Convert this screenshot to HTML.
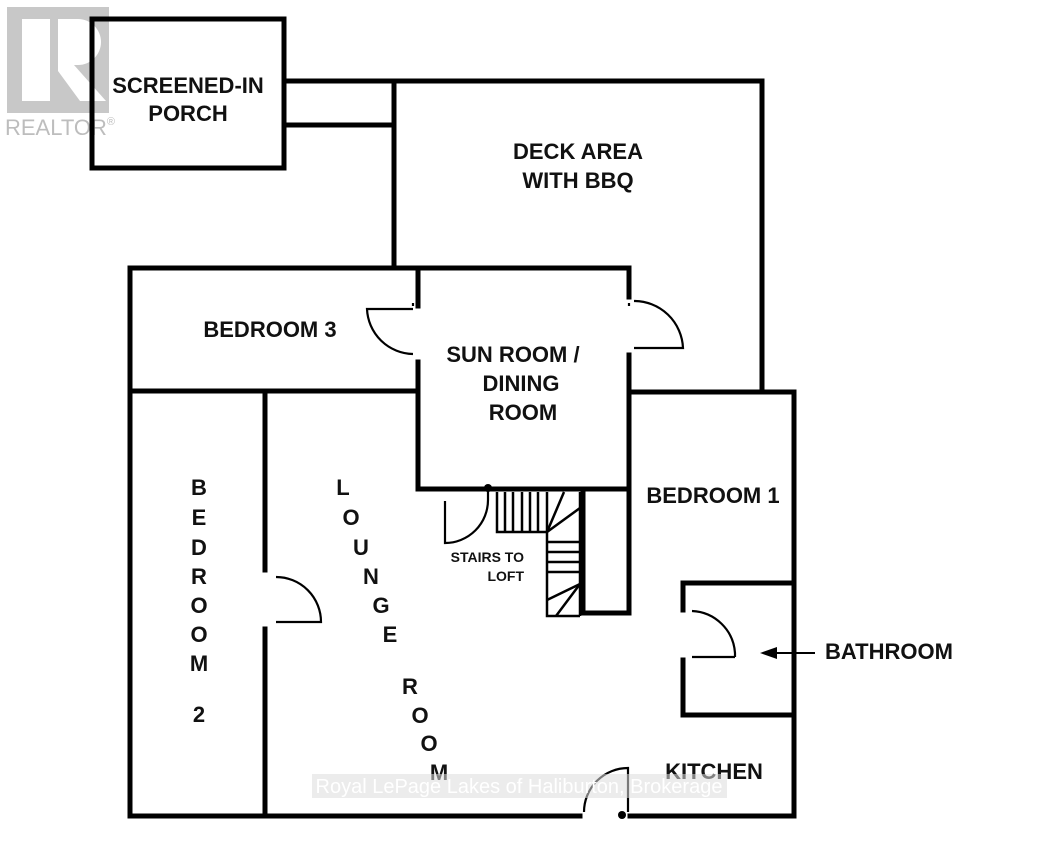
<!DOCTYPE html>
<html><head><style>
html,body{margin:0;padding:0;background:#fff;}
svg{display:block}
text{font-family:"Liberation Sans",sans-serif;font-weight:bold;fill:#111;}
</style></head><body>
<svg width="1037" height="845" viewBox="0 0 1037 845" xmlns="http://www.w3.org/2000/svg">
<!-- realtor logo -->
<rect x="7" y="7" width="102" height="106" fill="#c8c8c8"/>
<rect x="22" y="19" width="28" height="82" fill="#fff"/>
<path d="M58 19 h20 a23 23 0 0 1 0 46 h-4 l32 36 h-26 l-22 -30 z" fill="#fff"/>
<text x="5" y="135" font-size="22" style="font-weight:normal;fill:#bdbdbd">REALTOR<tspan font-size="11" dy="-10">®</tspan></text>

<g stroke="#000" stroke-width="5" fill="none" stroke-linecap="square">
<rect x="92" y="19" width="192" height="149"/>
<line x1="284" y1="81" x2="393" y2="81"/>
<line x1="284" y1="125" x2="393" y2="125"/>
<polyline points="394,268 394,81 762,81 762,390"/>
<line x1="130" y1="268" x2="629" y2="268"/>
<line x1="130" y1="268" x2="130" y2="816"/>
<line x1="130" y1="391" x2="418" y2="391"/>
<line x1="418" y1="268" x2="418" y2="306"/>
<line x1="418" y1="362" x2="418" y2="489"/>
<line x1="418" y1="489" x2="629" y2="489"/>
<line x1="629" y1="268" x2="629" y2="297"/>
<line x1="629" y1="355" x2="629" y2="613"/>
<polyline points="629,392 794,392 794,816"/>
<polyline points="583,489 583,613 629,613"/>
<line x1="683" y1="583" x2="794" y2="583"/>
<line x1="683" y1="583" x2="683" y2="610"/>
<line x1="683" y1="660" x2="683" y2="715"/>
<line x1="683" y1="715" x2="794" y2="715"/>
<line x1="130" y1="816" x2="580" y2="816"/>
<line x1="630" y1="816" x2="794" y2="816"/>
<line x1="265" y1="391" x2="265" y2="570"/>
<line x1="265" y1="629" x2="265" y2="816"/>
</g>

<g stroke="#000" stroke-width="2.2" fill="none">
<path d="M413 309 h-46 a47 47 0 0 0 46 45"/>
<path d="M634 301 a49 49 0 0 1 49 47 h-49"/>
<path d="M276 577 a45 45 0 0 1 45 45 h-45"/>
<path d="M735 657 v-4 a45 45 0 0 0 -43 -42"/>
<path d="M692 657 h43"/>
<path d="M445 501 v42 h0 a43 43 0 0 0 43 -43 v-12"/>
<path d="M584 812 a44 44 0 0 1 44 -44 v44"/>
<path d="M413 303 v3 M629 303 v3"/>
</g>
<circle cx="488" cy="488" r="4" fill="#000"/>
<circle cx="622" cy="815" r="4" fill="#000"/>

<g stroke="#000" stroke-width="2.5" fill="none">
<polyline points="497,492 497,532 547,532 547,616 580,616"/>
<line x1="505" y1="492" x2="505" y2="532"/>
<line x1="513" y1="492" x2="513" y2="532"/>
<line x1="522" y1="492" x2="522" y2="532"/>
<line x1="530" y1="492" x2="530" y2="532"/>
<line x1="538" y1="492" x2="538" y2="532"/>
<line x1="547" y1="492" x2="547" y2="532"/>
<line x1="547" y1="532" x2="564" y2="492"/>
<line x1="547" y1="532" x2="580" y2="508"/>
<line x1="547" y1="542" x2="580" y2="542"/>
<line x1="547" y1="552" x2="580" y2="552"/>
<line x1="547" y1="562" x2="580" y2="562"/>
<line x1="547" y1="572" x2="580" y2="572"/>
<line x1="547" y1="600" x2="580" y2="584"/>
<line x1="556" y1="616" x2="580" y2="584"/>
<line x1="580" y1="492" x2="580" y2="616"/>
</g>

<g font-size="22" text-anchor="middle">
<text x="188" y="93">SCREENED-IN</text>
<text x="188" y="121">PORCH</text>
<text x="578" y="159">DECK AREA</text>
<text x="578" y="188">WITH BBQ</text>
<text x="270" y="337">BEDROOM 3</text>
<text x="513" y="362">SUN ROOM /</text>
<text x="521" y="391">DINING</text>
<text x="523" y="420">ROOM</text>
<text x="713" y="503">BEDROOM 1</text>
<text x="889" y="659">BATHROOM</text>
<text x="714" y="779">KITCHEN</text>
<text x="199" y="495">B</text>
<text x="199" y="525">E</text>
<text x="199" y="555">D</text>
<text x="199" y="584">R</text>
<text x="199" y="613">O</text>
<text x="199" y="642">O</text>
<text x="199" y="671">M</text>
<text x="199" y="722">2</text>
<text x="343" y="495">L</text>
<text x="351" y="525">O</text>
<text x="361" y="555">U</text>
<text x="371" y="584">N</text>
<text x="381" y="613">G</text>
<text x="390" y="642">E</text>
<text x="410" y="694">R</text>
<text x="420" y="723">O</text>
<text x="429" y="751">O</text>
<text x="439" y="780">M</text>
</g>
<g font-size="14" text-anchor="end">
<text x="524" y="562">STAIRS TO</text>
<text x="524" y="581">LOFT</text>
</g>
<line x1="775" y1="653" x2="815" y2="653" stroke="#000" stroke-width="2"/>
<polygon points="760,653 777,647 777,659" fill="#000"/>
<rect x="312" y="774" width="415" height="24" fill="#ddd" opacity="0.55"/>
<text x="519" y="793" font-size="20" text-anchor="middle" style="font-weight:normal;fill:#fff">Royal LePage Lakes of Haliburton, Brokerage</text>
</svg>
</body></html>
